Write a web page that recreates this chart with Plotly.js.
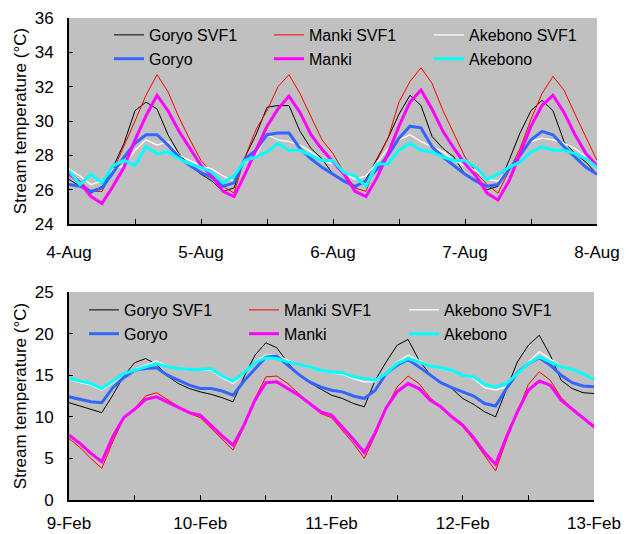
<!DOCTYPE html>
<html><head><meta charset="utf-8">
<script src="https://cdn.plot.ly/plotly-3.0.1.min.js"></script>
<style>html,body{margin:0;padding:0;background:#fff}#chart{width:629px;height:534px}</style>
</head><body><div id="chart"></div>
<script>
// ---- Data (2-hourly readings) ----
// August panel: 4-Aug 00:00 .. 8-Aug 00:00
const goryoSVF1_Aug = [
26.6,26.2,25.8,26.2,27.3,28.7,30.6,31.1,30.7,29.2,28.1,27.4,
26.9,26.5,25.9,26.1,27.9,29.2,30.8,30.9,30.9,29.4,28.4,27.8,
26.9,26.5,26.1,26.6,27.8,29.0,30.4,31.5,30.9,29.1,28.4,27.9,
26.9,26.5,26.0,26.2,27.7,29.3,30.6,31.2,30.6,28.8,28.1,27.6,26.9];
const mankiSVF1_Aug = [
27.0,26.5,25.9,25.9,27.1,28.5,30.0,31.5,32.7,31.7,30.2,28.9,
27.7,27.0,26.2,25.8,27.9,29.5,30.6,32.0,32.7,31.6,30.2,28.9,
28.1,27.0,26.1,25.9,27.7,29.0,31.1,32.3,33.1,32.2,30.6,29.2,
27.9,27.0,26.3,25.8,27.1,28.4,30.1,31.6,32.6,31.8,30.4,29.0,27.7];
const akebonoSVF1_Aug = [
27.2,26.8,26.3,26.5,27.2,27.4,28.3,28.9,28.6,28.8,28.0,27.7,
27.4,27.2,26.8,26.5,27.6,28.0,29.2,28.9,28.8,28.6,28.2,27.7,
27.5,27.0,26.6,26.8,27.6,28.4,28.9,29.2,28.8,28.5,28.2,27.7,
27.4,27.1,26.6,26.5,27.3,28.0,28.8,29.0,28.9,28.7,28.4,27.9,27.4];
const goryo_Aug = [
26.3,26.2,25.9,26.1,27.0,27.9,28.7,29.2,29.2,28.6,27.9,27.4,
27.0,26.7,26.2,26.4,27.8,28.3,29.2,29.3,29.3,28.4,27.8,27.3,
26.9,26.5,26.2,26.5,27.2,28.0,29.0,29.7,29.6,28.5,27.9,27.4,
26.9,26.5,26.2,26.3,27.2,28.0,28.9,29.4,29.2,28.5,27.9,27.3,26.9];
const manki_Aug = [
26.9,26.4,25.6,25.2,26.2,27.3,28.9,30.3,31.5,30.6,29.4,28.4,
27.4,26.8,25.9,25.6,26.9,28.3,29.7,30.7,31.45,30.5,29.2,28.35,
27.6,26.9,25.9,25.6,26.7,28.1,29.7,31.1,31.8,30.7,29.4,28.4,
27.5,26.8,25.8,25.4,26.5,28.1,29.7,30.9,31.5,30.5,29.2,28.1,27.4];
const akebono_Aug = [
27.1,26.3,26.9,26.4,27.4,27.7,27.4,28.5,28.1,28.2,27.8,27.5,
27.3,27.0,26.4,26.8,27.7,27.9,28.2,28.7,28.3,28.3,28.0,27.7,
27.7,27.0,26.8,26.2,27.5,27.5,28.3,28.7,28.3,28.2,27.9,27.7,
27.7,27.3,26.6,26.9,27.3,27.6,28.2,28.5,28.3,28.3,28.1,27.8,27.3];

// February panel: 9-Feb 00:00 .. 13-Feb 00:00
const goryoSVF1_Feb = [
11.7,11.3,10.9,10.5,12.6,14.9,16.5,17.0,16.3,14.9,14.0,13.4,
13.0,12.7,12.3,11.8,14.8,17.4,18.9,18.3,16.5,15.0,14.1,13.3,
12.6,12.2,11.6,11.2,14.4,16.6,18.6,19.3,16.8,15.1,14.1,13.4,
12.2,11.5,10.6,10.0,13.2,16.6,18.6,19.8,17.4,14.4,13.4,12.9,12.8];
const mankiSVF1_Feb = [
7.4,6.3,5.0,3.8,7.0,9.8,11.0,12.5,12.9,12.1,11.3,10.4,
9.9,8.6,7.2,6.0,8.8,12.2,14.8,14.9,14.0,12.8,11.5,10.4,
9.9,8.4,6.8,5.0,7.8,11.0,13.6,14.9,14.0,12.3,11.2,9.9,
8.8,7.2,5.3,3.5,7.2,10.6,13.9,15.4,14.4,12.3,11.0,9.9,8.7];
const akebonoSVF1_Feb = [
14.5,14.1,13.8,13.2,14.1,15.1,15.7,16.2,16.7,16.1,15.7,15.6,
15.6,15.6,14.7,14.0,15.2,16.6,17.4,17.4,16.8,16.3,15.9,15.5,
15.3,15.1,14.6,14.2,14.2,15.2,16.6,17.4,16.8,16.2,15.8,15.5,
15.0,14.6,13.5,13.2,13.6,15.1,16.6,17.8,16.9,16.1,15.6,15.2,14.6];
const goryo_Feb = [
12.4,12.1,11.8,11.7,13.5,14.7,15.6,15.8,15.9,15.0,14.4,13.8,
13.4,13.4,13.1,12.6,14.3,15.8,17.2,17.3,16.2,15.1,14.2,13.6,
13.2,13.0,12.5,12.2,13.2,15.2,16.2,16.9,16.0,15.0,14.1,13.5,
13.0,12.5,11.6,11.3,13.4,15.3,16.4,17.1,16.2,15.0,14.1,13.7,13.6];
const manki_Feb = [
7.8,6.8,5.6,4.6,7.6,9.9,10.9,12.1,12.4,11.8,11.2,10.5,
10.2,8.9,7.7,6.6,9.0,12.0,14.1,14.2,13.4,12.6,11.6,10.6,
10.2,8.8,7.3,5.7,8.1,11.1,13.0,14.0,13.4,12.0,11.2,10.0,
9.0,7.5,5.7,4.3,7.6,10.6,13.2,14.3,13.8,12.0,10.9,9.9,8.8];
const akebono_Feb = [
14.6,14.3,14.0,13.4,14.3,15.2,15.6,16.0,16.4,16.0,15.8,15.7,
15.7,15.8,14.9,14.3,15.3,16.5,17.1,17.0,16.6,16.3,16.0,15.6,
15.4,15.3,14.8,14.6,14.4,15.2,16.4,17.0,16.6,16.1,15.9,15.6,
15.0,14.8,13.9,13.6,14.0,15.2,16.4,17.2,16.6,16.0,15.7,15.2,14.5];

const seriesNames = ['Goryo SVF1','Manki SVF1','Akebono SVF1','Goryo','Manki','Akebono'];
const tickLabelFormat = '%-d-%b';

// regular 2-hour time grid
function timeGrid(year, month, day0, n) {
  const out = [];
  for (let i = 0; i < n; i++) {
    const h = 2 * i;
    const d = day0 + Math.floor(h / 24);
    const hh = h % 24;
    out.push(year + '-' + month + '-' + String(d).padStart(2,'0') + ' ' + String(hh).padStart(2,'0') + ':00');
  }
  return out;
}
const timesAug = timeGrid(2009, '08', 4, goryo_Aug.length);
const timesFeb = timeGrid(2010, '02', 9, goryo_Feb.length);

const styles = [
  {color:'#000000', width:1},
  {color:'#ff0000', width:1},
  {color:'#ffffff', width:1.3},
  {color:'#3366ff', width:3},
  {color:'#ff00ff', width:3},
  {color:'#00ffff', width:3}
];

const augData = [goryoSVF1_Aug, mankiSVF1_Aug, akebonoSVF1_Aug, goryo_Aug, manki_Aug, akebono_Aug];
const febData = [goryoSVF1_Feb, mankiSVF1_Feb, akebonoSVF1_Feb, goryo_Feb, manki_Feb, akebono_Feb];

const traces = [];
augData.forEach((ys, i) => traces.push({
  x: timesAug, y: ys, name: seriesNames[i], type:'scatter', mode:'lines',
  line: styles[i], xaxis:'x', yaxis:'y', legend:'legend'
}));
febData.forEach((ys, i) => traces.push({
  x: timesFeb, y: ys, name: seriesNames[i], type:'scatter', mode:'lines',
  line: styles[i], xaxis:'x2', yaxis:'y2', legend:'legend2'
}));

const FONT = 'Liberation Sans, Arial, sans-serif';
function xAxis(range, domain, anchor, standoff) {
  return {
    type:'date', range: range, domain: domain, anchor: anchor,
    tickformat: tickLabelFormat, dtick: 86400000,
    ticks:'inside', ticklen:5, tickwidth:1, tickcolor:'#000',
    showline:true, linecolor:'#000', linewidth:2,
    showgrid:false, zeroline:false,
    tickfont:{size:17, color:'#000', family:FONT},
    ticklabelstandoff: standoff,
    minor:{dtick: 43200000, ticks:'inside', ticklen:5, tickcolor:'#000', tickwidth:1, showgrid:false}
  };
}
function yAxis(range, dtick, domain, anchor) {
  return {
    range: range, dtick: dtick, domain: domain, anchor: anchor,
    ticks:'inside', ticklen:4, tickwidth:1, tickcolor:'#000',
    showline:true, linecolor:'#000', linewidth:2,
    showgrid:false, zeroline:false,
    tickfont:{size:17, color:'#000', family:FONT},
    ticklabelstandoff: 10,
    title:{text:'Stream temperature (°C)', font:{size:17, color:'#000', family:FONT}, standoff:4}
  };
}

const legendBase = {
  orientation:'h', xanchor:'left', yanchor:'top',
  entrywidth:115, entrywidthmode:'pixels',
  bgcolor:'rgba(0,0,0,0)', borderwidth:0,
  font:{size:16, color:'#000', family:FONT}, traceorder:'normal'
};

const layout = {
  width:629, height:534,
  margin:{l:69, r:32, t:18, b:34},
  paper_bgcolor:'#ffffff', plot_bgcolor:'#c0c0c0',
  font:{family:FONT, color:'#000'},
  showlegend:true,
  xaxis: xAxis(['2009-08-04 00:00','2009-08-08 00:00'], [0,1], 'y', 12),
  yaxis: yAxis([24,36], 2, [0.5726,1], 'x'),
  xaxis2: xAxis(['2010-02-09 00:00','2010-02-13 00:00'], [0,0.9943], 'y2', 7),
  yaxis2: yAxis([0,25], 5, [0,0.4315], 'x2'),
  legend: Object.assign({}, legendBase, {x:0.0758, y:1.0}),
  legend2: Object.assign({}, legendBase, {x:0.0284, y:0.4295})
};

Plotly.newPlot('chart', traces, layout, {displayModeBar:false, staticPlot:true});
</script></body></html>
